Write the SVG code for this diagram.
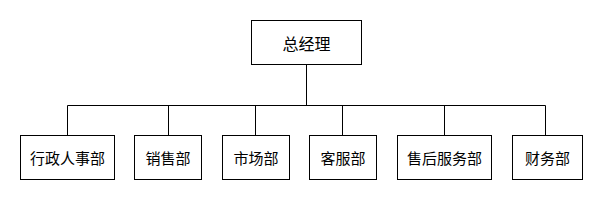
<svg xmlns="http://www.w3.org/2000/svg" width="600" height="200" viewBox="0 0 600 200">
<style>
.box{fill:#fff;stroke:#000;stroke-width:1}
.t{font-family:"Noto Sans CJK SC","Liberation Sans",sans-serif;font-size:15px;fill:#000;text-anchor:middle;dominant-baseline:central}
.c{fill:none;stroke:#000;stroke-width:1}
</style>
<rect width="600" height="200" fill="#fff"/>
<g id="connectors">
<path class="c" d="M306.5 64.5V105.5M67.5 105.5H545.5M67.5 105.5V135M168.5 105.5V135M255.5 105.5V135M342.5 105.5V135M444.5 105.5V135M545.5 105.5V135"/>
</g>
<g id="n0"><rect class="box" x="251.5" y="20.5" width="110" height="44"/><text class="t" x="306.5" y="42.5" style="font-size:16px">总经理</text></g>
<g id="n1"><rect class="box" x="20.5" y="135.5" width="94" height="44"/><text class="t" x="67.5" y="157.5">行政人事部</text></g>
<g id="n2"><rect class="box" x="134.5" y="135.5" width="67" height="44"/><text class="t" x="168" y="157.5">销售部</text></g>
<g id="n3"><rect class="box" x="222.5" y="135.5" width="67" height="44"/><text class="t" x="256" y="157.5">市场部</text></g>
<g id="n4"><rect class="box" x="309.5" y="135.5" width="67" height="44"/><text class="t" x="343" y="157.5">客服部</text></g>
<g id="n5"><rect class="box" x="397.5" y="135.5" width="94" height="44"/><text class="t" x="444.5" y="157.5">售后服务部</text></g>
<g id="n6"><rect class="box" x="512.5" y="135.5" width="70" height="44"/><text class="t" x="547.5" y="157.5">财务部</text></g>
</svg>
